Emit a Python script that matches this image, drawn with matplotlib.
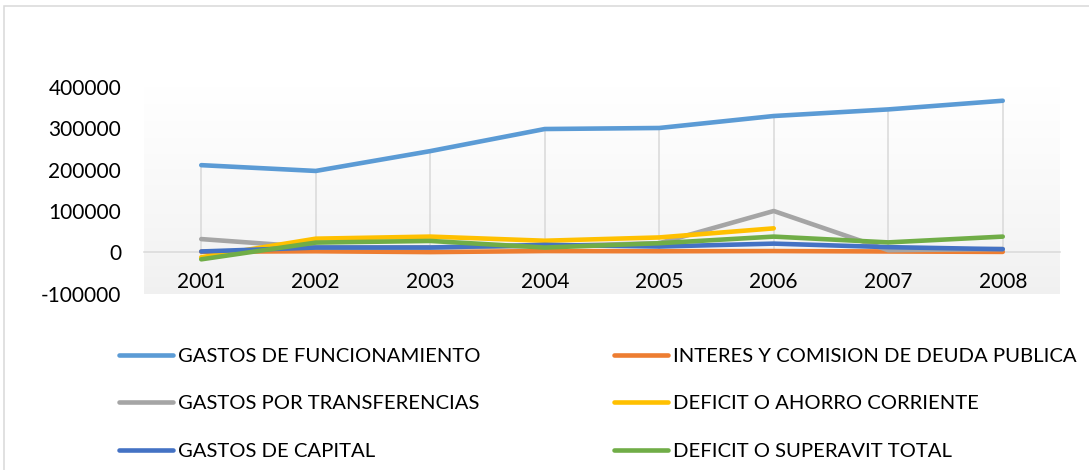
import numpy as np
import matplotlib
matplotlib.use("Agg")
import matplotlib.pyplot as plt
from matplotlib.lines import Line2D
from matplotlib.patches import Rectangle

plt.rcParams['font.family'] = ['Lato', 'DejaVu Sans']

years = ['2001', '2002', '2003', '2004', '2005', '2006', '2007', '2008']
funcionamiento = [211000, 197000, 245000, 298500, 301000, 330000, 346000, 367000]
interes = [1500, 2500, 500, 3000, 2500, 3000, 2000, 1000]
transferencias = [32000, 12000, 12000, 15000, 22000, 100000, 5000, 8000]
ahorro = [-12000, 33000, 38000, 28000, 36000, 58000, np.nan, np.nan]
capital = [2000, 11500, 11500, 18000, 14000, 21000, 12500, 7500]
superavit = [-17000, 23500, 27500, 11500, 22000, 38000, 24000, 38000]

series_names = ['GASTOS DE FUNCIONAMIENTO', 'INTERES Y COMISION DE DEUDA PUBLICA',
                'GASTOS POR TRANSFERENCIAS', 'DEFICIT O AHORRO CORRIENTE',
                'GASTOS DE CAPITAL', 'DEFICIT O SUPERAVIT TOTAL']
series_vals = [funcionamiento, interes, transferencias, ahorro, capital, superavit]
colors = ['#5B9BD5', '#ED7D31', '#A5A5A5', '#FFC000', '#4472C4', '#70AD47']
yticks = [-100000, 0, 100000, 200000, 300000, 400000]

W, H = 1089, 470
fig = plt.figure(figsize=(W / 100, H / 100), dpi=100)

def px_axes(x0, y0, x1, y1):
    return [x0 / W, 1 - y1 / H, (x1 - x0) / W, (y1 - y0) / H]

ax = fig.add_axes(px_axes(144, 87.1, 1060, 293.6))
x = np.arange(len(years))
ax.set_xlim(-0.5, len(years) - 0.5)
ax.set_ylim(yticks[0], yticks[-1])

# gradient background
grad = np.linspace(0, 1, 256).reshape(-1, 1)
c_bot = np.array([0xF0, 0xF0, 0xF0]) / 255
c_top = np.array([0xFF, 0xFF, 0xFF]) / 255
img = c_bot + (c_top - c_bot) * grad[:, :, None] ** 0.8
ax.imshow(img, extent=[-0.5, len(years) - 0.5, yticks[0], yticks[-1]],
          origin='lower', aspect='auto', zorder=0, interpolation='bilinear')

# drop lines
arr = np.array(series_vals, dtype=float)
tops = np.nanmax(arr, axis=0)
bots = np.minimum(0, np.nanmin(arr, axis=0))
ax.vlines(x, bots, tops, color='#D9D9D9', linewidth=1.1, zorder=1)

for name, vals, c in zip(series_names, series_vals, colors):
    ax.plot(x, vals, color=c, linewidth=3.3, solid_capstyle='round',
            solid_joinstyle='round', zorder=3, label=name)

for s in ['top', 'right', 'left']:
    ax.spines[s].set_visible(False)
ax.spines['bottom'].set_position(('data', 0))
ax.spines['bottom'].set_color('#D9D9D9')
ax.spines['bottom'].set_linewidth(1.1)
ax.spines['bottom'].set_zorder(1)

ax.set_xticks(x)
ax.set_xticklabels(years)
ax.set_yticks(yticks)
ax.set_yticklabels([str(v) for v in yticks])
ax.tick_params(axis='x', length=0, pad=14.5, labelsize=15, colors='#000000')
ax.tick_params(axis='y', length=0, pad=16.5, labelsize=15, colors='#000000')

# legend (two columns as separate legends)
handles = [Line2D([0], [0], color=c, linewidth=3.3, solid_capstyle='round') for c in colors]
leg_kw = dict(frameon=False, fontsize=14.6, handlelength=2.65, handletextpad=0.25,
              labelspacing=1.5, borderpad=0, borderaxespad=0, loc='upper left')
col1 = [0, 2, 4]
col2 = [1, 3, 5]
leg1 = fig.legend([handles[i] for i in col1], [series_names[i] for i in col1],
                  bbox_to_anchor=(119 / W, 1 - 347.5 / H), **leg_kw)
leg2 = fig.legend([handles[i] for i in col2], [series_names[i] for i in col2],
                  bbox_to_anchor=(614 / W, 1 - 347.5 / H), **leg_kw)

# chart border
fig.add_artist(Rectangle((4.3 / W, -0.1), 1.2, 1.1 - 6 / H, transform=fig.transFigure,
                         fill=False, edgecolor='#D9D9D9', linewidth=1.1))

fig.savefig('out.png', dpi=100, facecolor='white')
